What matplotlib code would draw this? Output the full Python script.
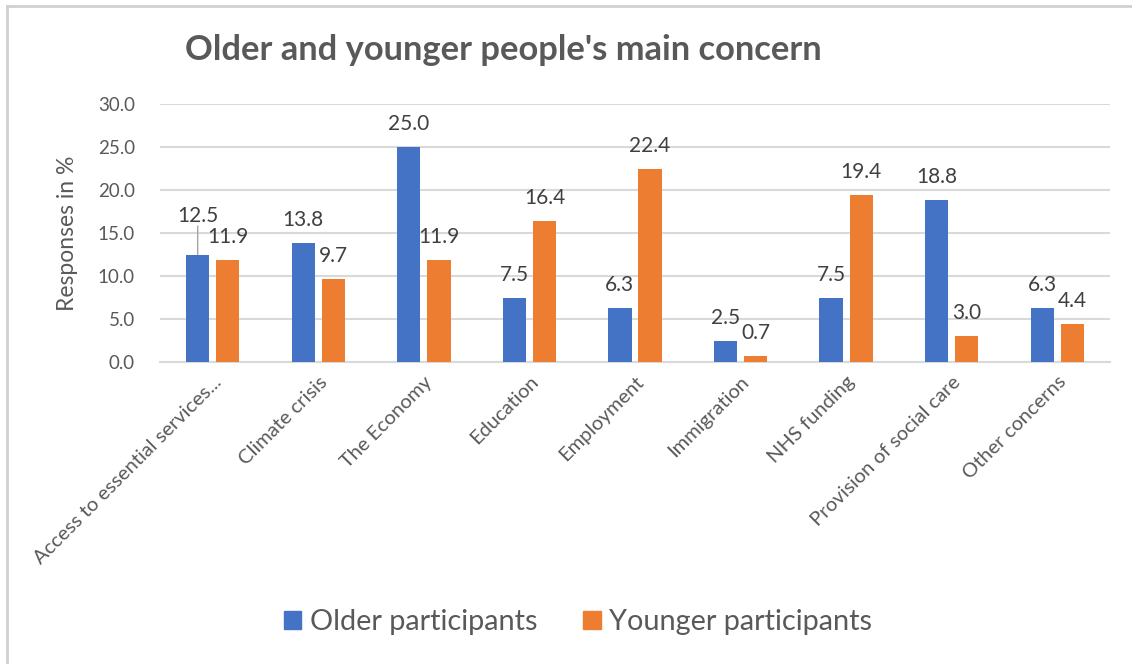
import matplotlib
matplotlib.use("Agg")
import matplotlib.pyplot as plt
import numpy as np
from matplotlib.lines import Line2D
from matplotlib.patches import Rectangle

categories = ["Access to essential services...", "Climate crisis", "The Economy",
              "Education", "Employment", "Immigration", "NHS funding",
              "Provision of social care", "Other concerns"]
older = [12.5, 13.8, 25.0, 7.5, 6.3, 2.5, 7.5, 18.8, 6.3]
younger = [11.9, 9.7, 11.9, 16.4, 22.4, 0.7, 19.4, 3.0, 4.4]
series_names = ["Older participants", "Younger participants"]
yticks = [0, 5, 10, 15, 20, 25, 30]

BLUE = "#4472C4"
ORANGE = "#ED7D31"
TXT = "#595959"
LBL = "#404040"
GRID = "#D9D9D9"

plt.rcParams['font.family'] = ['Lato', 'DejaVu Sans']

W, H = 1132, 664
fig = plt.figure(figsize=(W / 100, H / 100), dpi=100)
ax = fig.add_axes([160 / W, 1 - 362 / H, 950 / W, (362 - 104) / H])

x = np.arange(len(categories))
bw = 0.22
off = 0.143
b1 = ax.bar(x - off, older, bw, color=BLUE, zorder=3)
b2 = ax.bar(x + off, younger, bw, color=ORANGE, zorder=3)

ax.set_xlim(-0.5, len(categories) - 0.5)
ax.set_ylim(0, 30)
ax.set_yticks(yticks)
ax.set_yticklabels([f"{v:.1f}" for v in yticks])
ax.yaxis.grid(True, color=GRID, linewidth=1.5, zorder=0)
ax.set_axisbelow(True)
for s in ["top", "right", "left"]:
    ax.spines[s].set_visible(False)
ax.spines["bottom"].set_color(GRID)
ax.spines["bottom"].set_linewidth(1.5)
ax.tick_params(axis="both", length=0, colors=TXT, labelsize=13.5)
ax.tick_params(axis="y", pad=18)
ax.set_xticks(x)
ax.set_xticklabels(categories, rotation=45, ha="right", rotation_mode="anchor",
                   fontsize=14.5, color=TXT)
ax.tick_params(axis="x", pad=8)
ax.set_ylabel("Responses in %", fontsize=16.5, color=TXT, labelpad=14)

def label_bars(bars, vals, special=None):
    for i, (b, v) in enumerate(zip(bars, vals)):
        cx = b.get_x() + b.get_width() / 2
        if special is not None and i in special:
            dy = special[i]
            ax.annotate(f"{v:.1f}", (cx, v), xytext=(0, dy), textcoords="offset points",
                        ha="center", va="center", fontsize=15, color=LBL)
            ax.annotate("", (cx, v), xytext=(0, dy - 7.5), textcoords="offset points",
                        arrowprops=dict(arrowstyle="-", color="#A6A6A6", lw=1,
                                        shrinkA=0, shrinkB=0))
        else:
            ax.annotate(f"{v:.1f}", (cx, v), xytext=(0, 16.5), textcoords="offset points",
                        ha="center", va="center", fontsize=15, color=LBL)

label_bars(b1, older, special={0: 28})
label_bars(b2, younger)

fig.text(185 / W, 1 - 50 / H, "Older and younger people's main concern",
         fontsize=24.8, fontweight="bold", color=TXT, ha="left", va="center")

# legend
handles = [Rectangle((0, 0), 1, 1, color=BLUE), Rectangle((0, 0), 1, 1, color=ORANGE)]
fig.legend(handles, series_names, loc="center", bbox_to_anchor=(578 / W, 1 - 622 / H),
           ncol=2, frameon=False, fontsize=20.8, labelcolor=TXT,
           handlelength=0.6, handleheight=0.6, handletextpad=0.3, columnspacing=1.6)

# outer border (top and left visible)
fig.add_artist(Line2D([7 / W, 1.0], [1 - 6 / H, 1 - 6 / H], transform=fig.transFigure,
                      color="#D0D0D0", lw=2))
fig.add_artist(Line2D([7 / W, 7 / W], [0.0, 1 - 6 / H], transform=fig.transFigure,
                      color="#D0D0D0", lw=2))

fig.savefig("out.png", dpi=100, facecolor="white")
